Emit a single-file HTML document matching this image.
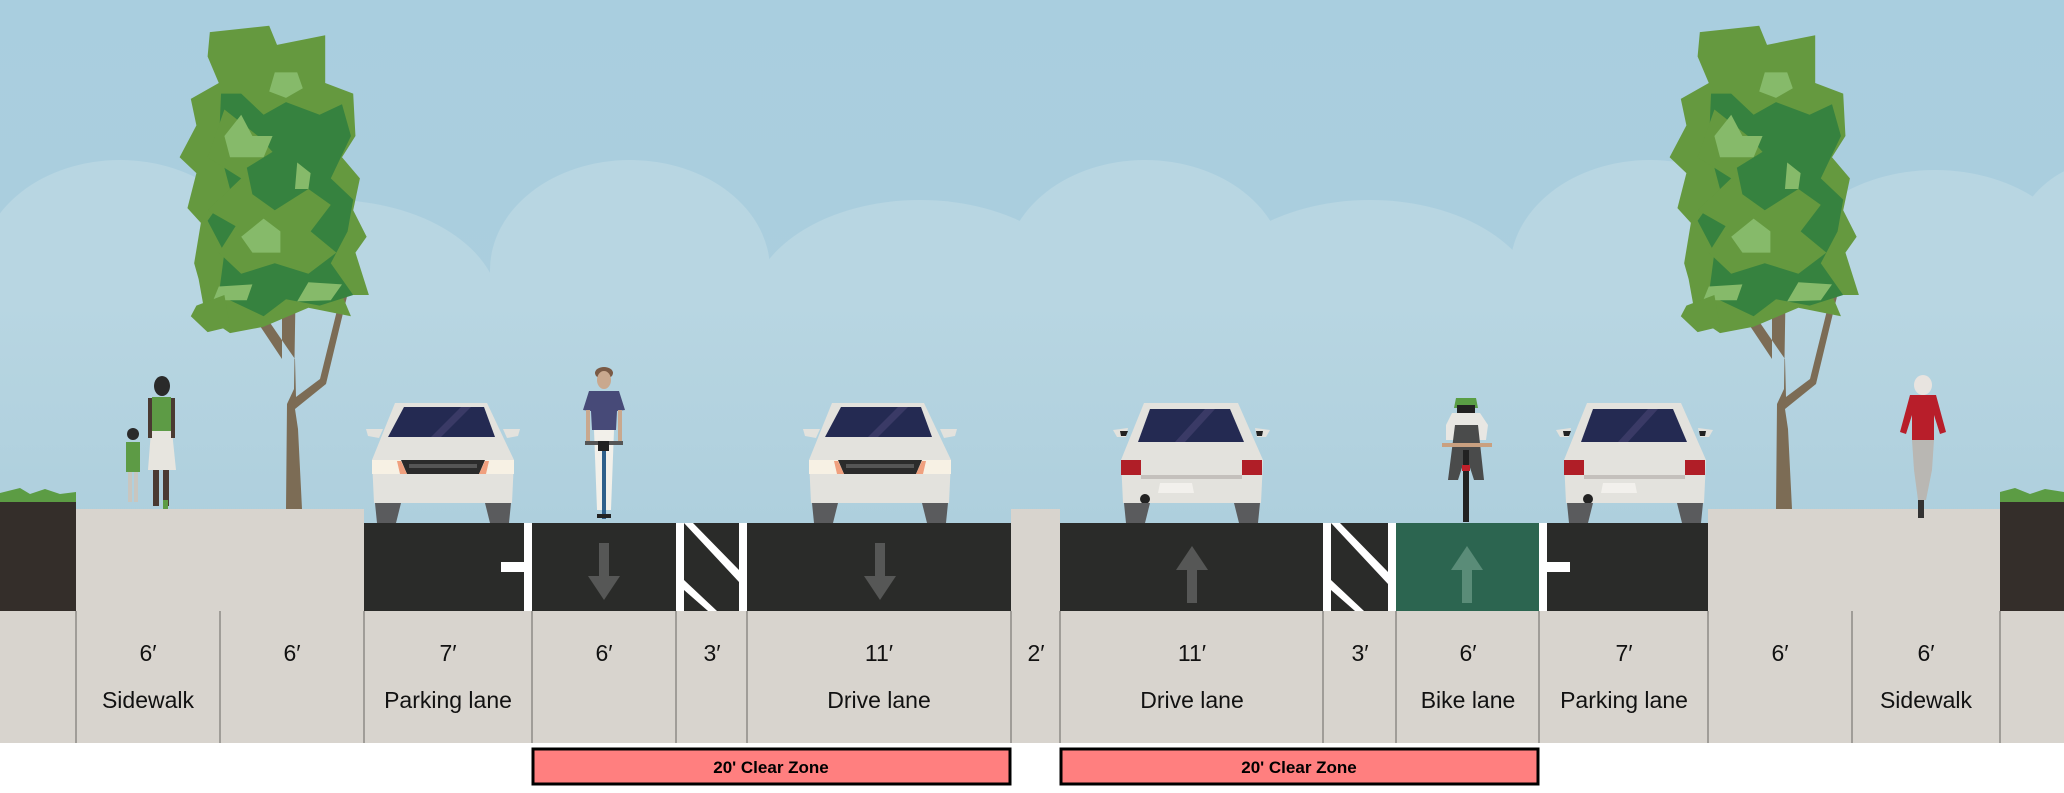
<!DOCTYPE html>
<html><head><meta charset="utf-8"><style>
html,body{margin:0;padding:0;background:#fff}
svg{display:block}
text{font-family:"Liberation Sans Narrow","Liberation Sans",sans-serif}
</style></head><body>
<svg width="2064" height="793" viewBox="0 0 2064 793" xmlns="http://www.w3.org/2000/svg">
<defs>
<linearGradient id="sky" x1="0" y1="0" x2="0" y2="1"><stop offset="0" stop-color="#a9cedf"/><stop offset="1" stop-color="#adcfdd"/></linearGradient>
<linearGradient id="fade" x1="0" y1="0" x2="0" y2="1"><stop offset="0" stop-color="#b8d6e2"/><stop offset="1" stop-color="#aecfdd"/></linearGradient>
<g id="carF">
<polygon points="24,0 116,0 143,57 141,100 3,100 1,57" fill="#e3e2dd"/>
<polygon points="33,4 113,4 124,34 17,34" fill="#242a52"/>
<polygon points="60,34 90,4 100,4 70,34" fill="#3a3a66"/>
<polygon points="-5,26 12,26 8,35 -3,33" fill="#e3e2dd"/>
<polygon points="149,26 132,26 136,35 147,33" fill="#e3e2dd"/>
<rect x="1" y="57" width="142" height="14" fill="#f7f1e4"/>
<polygon points="30,57 114,57 108,71 36,71" fill="#2b2b2b"/>
<rect x="38" y="61" width="68" height="4" fill="#555"/>
<polygon points="26,58 30,58 36,71 29,71" fill="#f0a07e"/>
<polygon points="118,58 114,58 108,71 115,71" fill="#f0a07e"/>
<polygon points="4,100 30,100 25,120 6,120" fill="#5a5b5d"/>
<polygon points="114,100 140,100 138,120 119,120" fill="#5a5b5d"/>
</g>
<g id="carR">
<polygon points="24,0 118,0 143,57 141,100 3,100 1,57" fill="#e3e2dd"/>
<polygon points="30,6 110,6 124,39 18,39" fill="#242a52"/>
<polygon points="55,39 85,6 95,6 65,39" fill="#3a3a66"/>
<polygon points="-7,27 8,25 6,34 -3,34" fill="#e3e2dd"/>
<polygon points="0,28 8,28 6,33 1,33" fill="#222"/>
<polygon points="150,27 135,25 137,34 146,34" fill="#e3e2dd"/>
<polygon points="143,28 136,28 137,33 142,33" fill="#222"/>
<rect x="1" y="57" width="20" height="15" fill="#b01e27"/>
<rect x="122" y="57" width="20" height="15" fill="#b01e27"/>
<rect x="21" y="72" width="101" height="4" fill="#c4c0bc"/>
<polygon points="40,80 72,80 74,90 38,90" fill="#f2f0ec"/>
<circle cx="25" cy="96" r="5" fill="#222"/>
<polygon points="4,100 30,100 25,120 6,120" fill="#5a5b5d"/>
<polygon points="114,100 140,100 138,120 119,120" fill="#5a5b5d"/>
</g>
<g id="tree">
<!-- trunk & branches, origin at trunk base center (y=0 is ground) -->
<polygon points="-8,-240 6,-240 4,-120 -3,-105 -4,0 12,0 8,-80 5,-100 36,-125 60,-225 54,-227 30,-130 6,-112 5,-150 -2,-160 -50,-230 -60,-228 -8,-150" fill="#7c6c55"/>
<g transform="translate(-4,-214) scale(1.12,1.06)">
<polygon points="-68,-248 -15,-254 -8,-236 35,-245 35,-200 60,-190 62,-150 50,-130 66,-110 60,-80 72,-55 62,-40 74,0 50,0 58,20 20,12 -20,30 -50,36 -72,20 -78,-15 -82,-30 -76,-68 -88,-82 -80,-115 -95,-130 -80,-160 -85,-185 -60,-200 -70,-225" fill="#65993f"/>
<polygon points="-58,-190 -40,-190 -20,-170 0,-182 30,-170 50,-180 58,-150 40,-110 60,-90 55,-60 40,-30 60,0 30,10 0,4 -20,20 -40,10 -60,0 -55,-40 -70,-70 -50,-100 -60,-140" fill="#36823f"/>
<polygon points="-55,-175 -25,-150 -12,-135 -35,-120 -30,-95 -10,-80 20,-100 40,-85 22,-60 45,-40 20,-20 -10,-30 -40,-20 -60,-40 -45,-65 -70,-80 -40,-110 -70,-130" fill="#65993f"/>
<polygon points="-40,-170 -30,-150 -12,-150 -20,-130 -50,-130 -55,-150" fill="#86ba6a"/>
<polygon points="-10,-210 10,-210 15,-195 0,-186 -15,-192" fill="#86ba6a"/>
<polygon points="-20,-72 -5,-60 -5,-40 -30,-40 -40,-55" fill="#86ba6a"/>
<polygon points="20,-12 50,-10 40,5 10,6" fill="#86ba6a"/>
<polygon points="-60,-8 -30,-10 -35,5 -65,5" fill="#86ba6a"/>
<polygon points="10,-125 22,-115 20,-100 8,-100" fill="#86ba6a"/>
<polygon points="-80,10 -55,0 -50,30 -70,35 -85,20" fill="#65993f"/>
</g>
</g>
</defs>
<rect x="0" y="0" width="2064" height="611" fill="url(#sky)"/>
<g fill="#b8d6e2">
<ellipse cx="120" cy="270" rx="140" ry="110"/>
<ellipse cx="330" cy="310" rx="170" ry="110"/>
<ellipse cx="630" cy="270" rx="140" ry="110"/>
<ellipse cx="920" cy="310" rx="170" ry="110"/>
<ellipse cx="1145" cy="270" rx="140" ry="110"/>
<ellipse cx="1370" cy="310" rx="170" ry="110"/>
<ellipse cx="1650" cy="270" rx="140" ry="110"/>
<ellipse cx="1935" cy="280" rx="150" ry="110"/>
<ellipse cx="2110" cy="260" rx="100" ry="100"/>
</g>
<rect x="0" y="300" width="2064" height="223" fill="url(#fade)"/>
<!-- trees -->
<use href="#tree" x="290" y="509"/>
<use href="#tree" x="1780" y="509"/>
<!-- soil & sidewalks -->
<polygon points="0,493 20,488 30,494 45,489 60,494 76,492 76,503 0,503" fill="#5c9c44"/>
<rect x="0" y="502" width="76" height="109" fill="#342e2a"/>
<polygon points="2000,492 2015,488 2030,494 2045,489 2064,492 2064,503 2000,503" fill="#5c9c44"/>
<rect x="2000" y="502" width="64" height="109" fill="#342e2a"/>
<rect x="76" y="509" width="288" height="102" fill="#d8d4ce"/>
<rect x="1011" y="509" width="49" height="102" fill="#d8d4ce"/>
<rect x="1708" y="509" width="292" height="102" fill="#d8d4ce"/>
<!-- asphalt -->
<rect x="364" y="523" width="647" height="88" fill="#2a2b29"/>
<rect x="1060" y="523" width="648" height="88" fill="#2a2b29"/>
<rect x="1396" y="523" width="143" height="88" fill="#2c6550"/>
<!-- markings -->
<rect x="524" y="523" width="8" height="88" fill="#fff"/>
<rect x="501" y="562" width="23" height="10" fill="#fff"/>
<rect x="676" y="523" width="8" height="88" fill="#fff"/>
<rect x="739" y="523" width="8" height="88" fill="#fff"/>
<polygon points="684,523 693,523 739,570 739,582" fill="#fff"/>
<polygon points="684,580 717,611 708,611 684,590" fill="#fff"/>
<rect x="1323" y="523" width="8" height="88" fill="#fff"/>
<rect x="1388" y="523" width="8" height="88" fill="#fff"/>
<polygon points="1331,523 1340,523 1388,572 1388,584" fill="#fff"/>
<polygon points="1331,580 1364,611 1355,611 1331,590" fill="#fff"/>
<rect x="1539" y="523" width="8" height="88" fill="#fff"/>
<rect x="1547" y="562" width="23" height="10" fill="#fff"/>
<g fill="#565756">
<rect x="599" y="543" width="10" height="36"/><polygon points="588,576 620,576 604,600"/>
<rect x="875" y="543" width="10" height="36"/><polygon points="864,576 896,576 880,600"/>
<rect x="1187" y="567" width="10" height="36"/><polygon points="1176,570 1208,570 1192,546"/>
</g>
<g fill="#5a8c78"><rect x="1462" y="567" width="10" height="36"/><polygon points="1451,570 1483,570 1467,546"/></g>
<!-- cars -->
<use href="#carF" x="371" y="403"/>
<use href="#carF" x="808" y="403"/>
<use href="#carR" x="1120" y="403"/>
<use href="#carR" x="1563" y="403"/>
<!-- people -->
<g>
<ellipse cx="162" cy="386" rx="8" ry="10" fill="#2a2a2a"/>
<rect x="152" y="397" width="19" height="34" fill="#5d9b45"/>
<polygon points="151,431 172,431 176,470 148,470" fill="#e7e5df"/>
<rect x="153" y="470" width="6" height="36" fill="#4a3a32"/><rect x="163" y="470" width="6" height="36" fill="#4a3a32"/>
<rect x="163" y="500" width="5" height="9" fill="#5d9b45"/>
<rect x="148" y="398" width="4" height="40" fill="#4a3a32"/><rect x="171" y="398" width="4" height="40" fill="#4a3a32"/>
<circle cx="133" cy="434" r="6" fill="#2a2a2a"/>
<rect x="126" y="442" width="14" height="30" fill="#5d9b45"/>
<rect x="128" y="472" width="4" height="30" fill="#c8c6c0"/><rect x="134" y="472" width="4" height="30" fill="#c8c6c0"/>
<ellipse cx="604" cy="373" rx="9" ry="6" fill="#7a5a45"/>
<ellipse cx="604" cy="380" rx="7" ry="9" fill="#c9a88e"/>
<polygon points="589,391 619,391 625,410 617,411 616,430 592,430 591,411 583,410" fill="#474a78"/>
<rect x="586" y="410" width="4" height="32" fill="#c9a88e"/><rect x="618" y="410" width="4" height="32" fill="#c9a88e"/>
<polygon points="594,430 614,430 611,510 597,510" fill="#f2f0ea"/>
<rect x="585" y="441" width="38" height="4" fill="#555"/>
<rect x="598" y="441" width="11" height="10" fill="#222"/>
<rect x="602" y="451" width="4" height="68" fill="#2e5f8a"/>
<rect x="597" y="514" width="14" height="4" fill="#222"/>
<polygon points="1456,398 1476,398 1478,408 1454,408" fill="#5a9e45"/>
<rect x="1457" y="405" width="18" height="8" fill="#222"/>
<polygon points="1452,413 1480,413 1488,425 1486,440 1478,440 1477,425 1455,425 1454,440 1446,440 1446,425" fill="#e8e7e3"/>
<polygon points="1455,425 1478,425 1484,480 1474,480 1466,455 1458,480 1448,480" fill="#4a4b4b"/>
<rect x="1442" y="443" width="50" height="4" fill="#c9a080"/>
<rect x="1463" y="450" width="6" height="72" fill="#222"/>
<rect x="1462" y="465" width="8" height="6" fill="#c0202a"/>
<ellipse cx="1923" cy="385" rx="9" ry="10" fill="#e8e4e0"/>
<polygon points="1910,395 1936,395 1946,432 1940,434 1934,415 1934,440 1912,440 1912,415 1906,434 1900,432" fill="#b81e2a"/>
<polygon points="1912,440 1934,440 1932,470 1926,500 1918,500 1914,470" fill="#b9b7b3"/>
<rect x="1918" y="500" width="6" height="18" fill="#333"/>
</g>
<!-- label band -->
<rect x="0" y="611" width="2064" height="132" fill="#d8d4ce"/>
<g stroke="#a09d98" stroke-width="2">
<line x1="76" y1="611" x2="76" y2="743"/><line x1="220" y1="611" x2="220" y2="743"/><line x1="364" y1="611" x2="364" y2="743"/>
<line x1="532" y1="611" x2="532" y2="743"/><line x1="676" y1="611" x2="676" y2="743"/><line x1="747" y1="611" x2="747" y2="743"/>
<line x1="1011" y1="611" x2="1011" y2="743"/><line x1="1060" y1="611" x2="1060" y2="743"/><line x1="1323" y1="611" x2="1323" y2="743"/>
<line x1="1396" y1="611" x2="1396" y2="743"/><line x1="1539" y1="611" x2="1539" y2="743"/><line x1="1708" y1="611" x2="1708" y2="743"/>
<line x1="1852" y1="611" x2="1852" y2="743"/><line x1="2000" y1="611" x2="2000" y2="743"/>
</g>
<g font-size="23" fill="#111" text-anchor="middle">
<text x="148" y="661">6′</text><text x="292" y="661">6′</text><text x="448" y="661">7′</text><text x="604" y="661">6′</text>
<text x="712" y="661">3′</text><text x="879" y="661">11′</text><text x="1036" y="661">2′</text><text x="1192" y="661">11′</text>
<text x="1360" y="661">3′</text><text x="1468" y="661">6′</text><text x="1624" y="661">7′</text><text x="1780" y="661">6′</text><text x="1926" y="661">6′</text>
<text x="148" y="708">Sidewalk</text><text x="448" y="708">Parking lane</text><text x="879" y="708">Drive lane</text>
<text x="1192" y="708">Drive lane</text><text x="1468" y="708">Bike lane</text><text x="1624" y="708">Parking lane</text><text x="1926" y="708">Sidewalk</text>
</g>
<rect x="533" y="749" width="477" height="35" fill="#ff7f7f" stroke="#000" stroke-width="3"/>
<rect x="1061" y="749" width="477" height="35" fill="#ff7f7f" stroke="#000" stroke-width="3"/>
<g font-size="17" font-weight="bold" fill="#000" text-anchor="middle">
<text x="771" y="773">20' Clear Zone</text><text x="1299" y="773">20' Clear Zone</text>
</g>
</svg>
</body></html>
